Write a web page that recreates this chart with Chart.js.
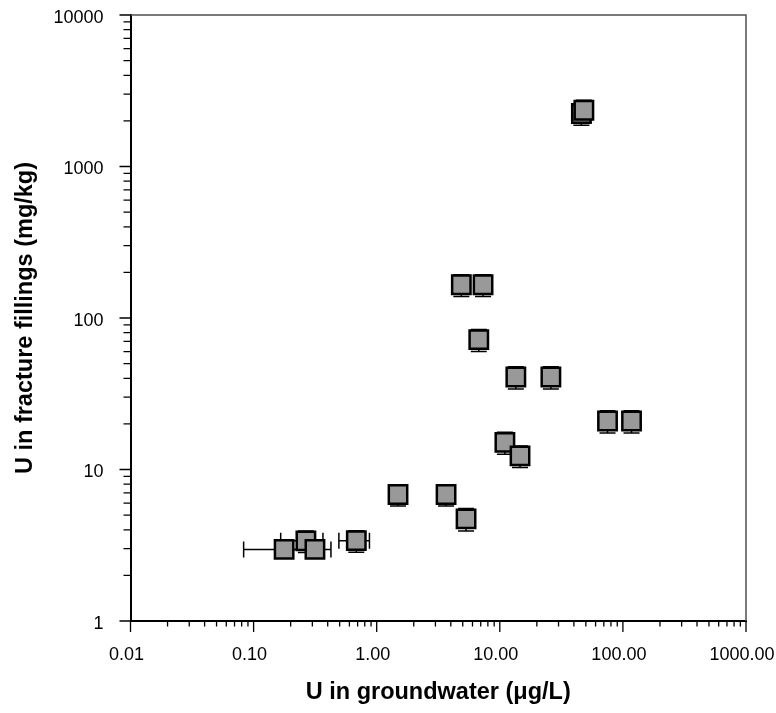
<!DOCTYPE html>
<html><head><meta charset="utf-8">
<script src="https://cdn.jsdelivr.net/npm/chart.js@4.4.1/dist/chart.umd.min.js"></script>
<style>html,body{margin:0;padding:0;background:#fff;} #wrap{width:776px;height:713px;position:relative;}</style>
</head><body><div id="wrap"><canvas id="c" width="776" height="713"></canvas></div>
<script>
// ---- data ----
const uGroundwater = [0.177, 0.266, 0.315, 0.683, 1.49, 3.66, 5.32, 4.87, 7.31, 6.75, 13.5, 26.0, 75, 117.5, 11.0, 14.6, 46, 48.2];
const uFillings    = [2.97, 3.38, 2.97, 3.39, 6.84, 6.84, 4.72, 165.7, 165.7, 72, 40.8, 40.8, 20.9, 20.9, 15.1, 12.3, 2240, 2350];
const xErr         = [0.094, 0.10, 0.11, 0.19, 0, 0, 0, 0, 0, 0, 0, 0, 0, 0, 0, 0, 0, 0];
const yErr         = [0, 0.55, 0, 0.55, 1.1, 1.1, 0.8, 27, 27, 12, 6.8, 6.8, 3.5, 3.5, 2.5, 2.0, 370, 390];
const xTickValues  = [0.01, 0.1, 1, 10, 100, 1000];
const xTickLabels  = ['0.01', '0.10', '1.00', '10.00', '100.00', '1000.00'];
const yTickValues  = [1, 10, 100, 1000, 10000];
const yTickLabels  = ['1', '10', '100', '1000', '10000'];
const xTitle = 'U in groundwater (\u03bcg/L)';
const yTitle = 'U in fracture fillings (mg/kg)';

function logTicks(majors) {
  const out = [];
  for (let i = 0; i < majors.length; i++) {
    out.push(majors[i]);
    if (i < majors.length - 1) for (let m = 2; m <= 9; m++) out.push(+(majors[i] * m).toPrecision(6));
  }
  return out;
}
function labelFor(values, labels, v) {
  const i = values.findIndex(t => Math.abs(Math.log10(t) - Math.log10(v)) < 1e-6);
  return i >= 0 ? labels[i] : '';
}
function isMajor(values, v) { return values.some(t => Math.abs(Math.log10(t) - Math.log10(v)) < 1e-6); }

const points = uGroundwater.map((x, i) => ({x: x, y: uFillings[i]}));

const extrasPlugin = {
  id: 'extras',
  beforeDatasetsDraw(chart) {
    const ctx = chart.ctx, xs = chart.scales.x, ys = chart.scales.y;
    ctx.save();
    ctx.strokeStyle = '#000';
    ctx.lineWidth = 1.5;
    const cap = 8;
    for (let i = 0; i < uGroundwater.length; i++) {
      const px = xs.getPixelForValue(uGroundwater[i]);
      const py = ys.getPixelForValue(uFillings[i]);
      if (xErr[i] > 0) {
        const x1 = xs.getPixelForValue(uGroundwater[i] - xErr[i]);
        const x2 = xs.getPixelForValue(uGroundwater[i] + xErr[i]);
        ctx.beginPath();
        ctx.moveTo(x1, py); ctx.lineTo(x2, py);
        ctx.moveTo(x1, py - cap); ctx.lineTo(x1, py + cap);
        ctx.moveTo(x2, py - cap); ctx.lineTo(x2, py + cap);
        ctx.stroke();
      }
      if (yErr[i] > 0) {
        const y1 = ys.getPixelForValue(uFillings[i] - yErr[i]);
        const y2 = ys.getPixelForValue(uFillings[i] + yErr[i]);
        ctx.beginPath();
        ctx.moveTo(px, y1); ctx.lineTo(px, y2);
        ctx.moveTo(px - cap, y1); ctx.lineTo(px + cap, y1);
        ctx.moveTo(px - cap, y2); ctx.lineTo(px + cap, y2);
        ctx.stroke();
      }
    }
    ctx.restore();
  },
  afterDraw(chart) {
    const ctx = chart.ctx, xs = chart.scales.x, ys = chart.scales.y, a = chart.chartArea;
    ctx.save();
    // frame (top and right)
    ctx.strokeStyle = '#505050';
    ctx.lineWidth = 1.5;
    ctx.beginPath();
    ctx.moveTo(a.left, a.top); ctx.lineTo(a.right, a.top); ctx.lineTo(a.right, a.bottom);
    ctx.stroke();
    // tick marks
    ctx.strokeStyle = '#000';
    ctx.lineWidth = 1.3;
    ctx.beginPath();
    xs.ticks.forEach(t => {
      const p = xs.getPixelForValue(t.value);
      const len = isMajor(xTickValues, t.value) ? 11 : 5.5;
      ctx.moveTo(p, a.bottom); ctx.lineTo(p, a.bottom + len);
    });
    ys.ticks.forEach(t => {
      const p = ys.getPixelForValue(t.value);
      const len = isMajor(yTickValues, t.value) ? 11 : 7;
      ctx.moveTo(a.left, p); ctx.lineTo(a.left - len, p);
    });
    ctx.stroke();
    ctx.restore();
  }
};

const tickFont = {family: 'Liberation Sans, Arial, sans-serif', size: 18};
const titleFont = {family: 'Liberation Sans, Arial, sans-serif', size: 23.5, weight: 'bold'};

new Chart(document.getElementById('c'), {
  type: 'scatter',
  data: {
    datasets: [{
      data: points,
      pointStyle: 'rect',
      pointRadius: 13,
      pointHoverRadius: 13,
      pointBackgroundColor: '#999999',
      pointBorderColor: '#000000',
      pointBorderWidth: 2.5,
      pointHoverBorderWidth: 2.5
    }]
  },
  options: {
    responsive: false,
    animation: false,
    devicePixelRatio: 1,
    events: [],
    layout: {padding: {top: 15, right: 30, left: 0, bottom: 0}, autoPadding: false},
    plugins: {legend: {display: false}, tooltip: {enabled: false}},
    scales: {
      x: {
        type: 'logarithmic',
        min: 0.01, max: 1000,
        afterBuildTicks: s => { s.ticks = logTicks(xTickValues).map(v => ({value: v})); },
        afterFit: s => { s.height = 92; s.paddingLeft = 0; s.paddingRight = 0; s.paddingTop = 0; s.paddingBottom = 0; },
        grid: {display: false, drawTicks: false},
        border: {display: true, color: '#000', width: 2},
        ticks: {
          autoSkip: false, maxRotation: 0, minRotation: 0,
          color: '#000', font: tickFont, padding: 23, labelOffset: -4,
          callback: v => labelFor(xTickValues, xTickLabels, v)
        },
        title: {display: true, text: xTitle, color: '#000', font: titleFont, padding: {top: 0, bottom: 6}}
      },
      y: {
        type: 'logarithmic',
        min: 1, max: 10000,
        afterBuildTicks: s => { s.ticks = logTicks(yTickValues).map(v => ({value: v})); },
        afterFit: s => { s.width = 130.5; s.paddingLeft = 0; s.paddingRight = 0; s.paddingTop = 0; s.paddingBottom = 0; },
        grid: {display: false, drawTicks: false},
        border: {display: true, color: '#000', width: 2},
        ticks: {
          autoSkip: false,
          color: '#000', font: tickFont, padding: 27, labelOffset: 3,
          callback: v => labelFor(yTickValues, yTickLabels, v)
        },
        title: {display: true, text: yTitle, color: '#000', font: titleFont, padding: {top: 11.5, bottom: 0}}
      }
    }
  },
  plugins: [extrasPlugin]
});
</script></body></html>
